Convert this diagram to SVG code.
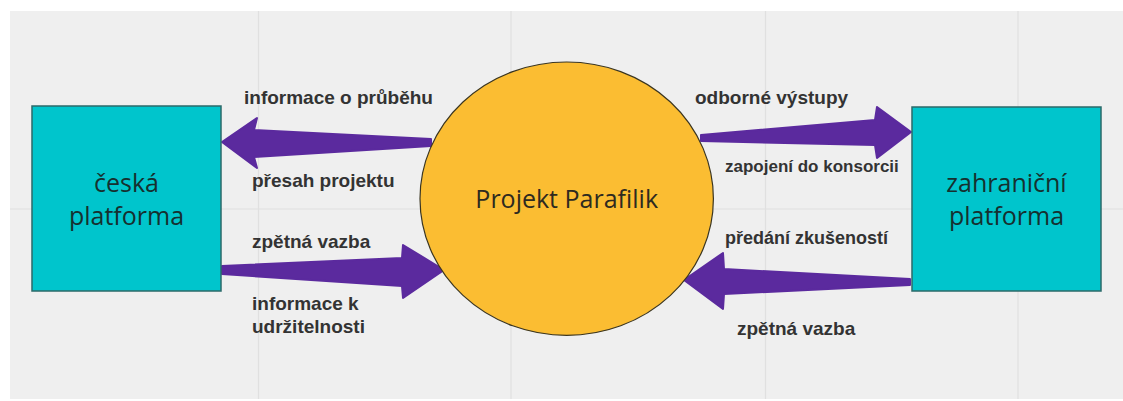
<svg xmlns="http://www.w3.org/2000/svg" width="1123" height="401" viewBox="0 0 1123 401">
  <style>
    .grid { stroke: #e0e0e0; stroke-width: 1.2; fill: none; }
    .box { fill: #00c5cc; stroke: #2b6a6a; stroke-width: 1.5; }
    .hub { fill: #fbbd32; stroke: #3a3520; stroke-width: 1.2; }
    .node-text { font-family: "Open Sans", "Noto Sans", sans-serif; font-size: 25px; fill: #16302f; text-anchor: middle; }
    .hub-text { font-family: "Open Sans", "Noto Sans", sans-serif; font-size: 25px; fill: #2e2a20; text-anchor: middle; }
    .flow { fill: #5b2a9e; stroke: #5b2a9e; stroke-width: 2; stroke-linejoin: round; }
    .label { font-family: "Liberation Sans", Arial, sans-serif; font-weight: bold; font-size: 19px; fill: #333333; }
  </style>

  <!-- canvas background with board grid -->
  <rect x="0" y="0" width="1123" height="401" fill="#ffffff"/>
  <rect x="10" y="11" width="1113" height="388" fill="#efefef"/>
  <g id="grid" class="grid">
    <line x1="258.5" y1="11" x2="258.5" y2="399"/>
    <line x1="511" y1="11" x2="511" y2="399"/>
    <line x1="765.5" y1="11" x2="765.5" y2="399"/>
    <line x1="1018" y1="11" x2="1018" y2="399"/>
    <line x1="10" y1="209" x2="1123" y2="209"/>
  </g>

  <!-- tapered flow arrows -->
  <g id="connectors">
    <!-- project -> Czech platform -->
    <path class="flow" d="M222,142 L257,118 L254,130 L431,139 L431,146 L254,157 L257,168 Z"/>
    <!-- project -> foreign platform -->
    <path class="flow" d="M701,135 L875,120 L877,107 L911,132 L877,158 L875,145 L701,141 Z"/>
    <!-- Czech platform -> project -->
    <path class="flow" d="M222,266 L402,258 L403,245 L444,270 L403,298 L402,286 L222,274 Z"/>
    <!-- foreign platform -> project -->
    <path class="flow" d="M910,279 L724,269 L723,253 L684,280 L723,309 L724,294 L910,285 Z"/>
  </g>

  <!-- flow labels -->
  <g id="labels" class="label">
    <text x="244" y="104">informace o průběhu</text>
    <text x="252" y="187">přesah projektu</text>
    <text x="252" y="248">zpětná vazba</text>
    <text x="252" y="310">informace k</text>
    <text x="252" y="333">udržitelnosti</text>
    <text x="695" y="104">odborné výstupy</text>
    <text x="725" y="172" font-size="17">zapojení do konsorcii</text>
    <text x="725" y="244" font-size="18">předání zkušeností</text>
    <text x="737" y="335">zpětná vazba</text>
  </g>

  <g id="node-czech-platform">
    <rect class="box" x="32" y="106" width="189" height="185"/>
    <text class="node-text" x="126.5" y="192">česká</text>
    <text class="node-text" x="126.5" y="225">platforma</text>
  </g>

  <g id="node-project">
    <ellipse class="hub" cx="566.7" cy="198.7" rx="146.7" ry="136.7"/>
    <text class="hub-text" x="566.7" y="208">Projekt Parafilik</text>
  </g>

  <g id="node-foreign-platform">
    <rect class="box" x="912" y="107" width="189" height="184"/>
    <text class="node-text" x="1006.5" y="192">zahraniční</text>
    <text class="node-text" x="1006.5" y="225">platforma</text>
  </g>
</svg>
